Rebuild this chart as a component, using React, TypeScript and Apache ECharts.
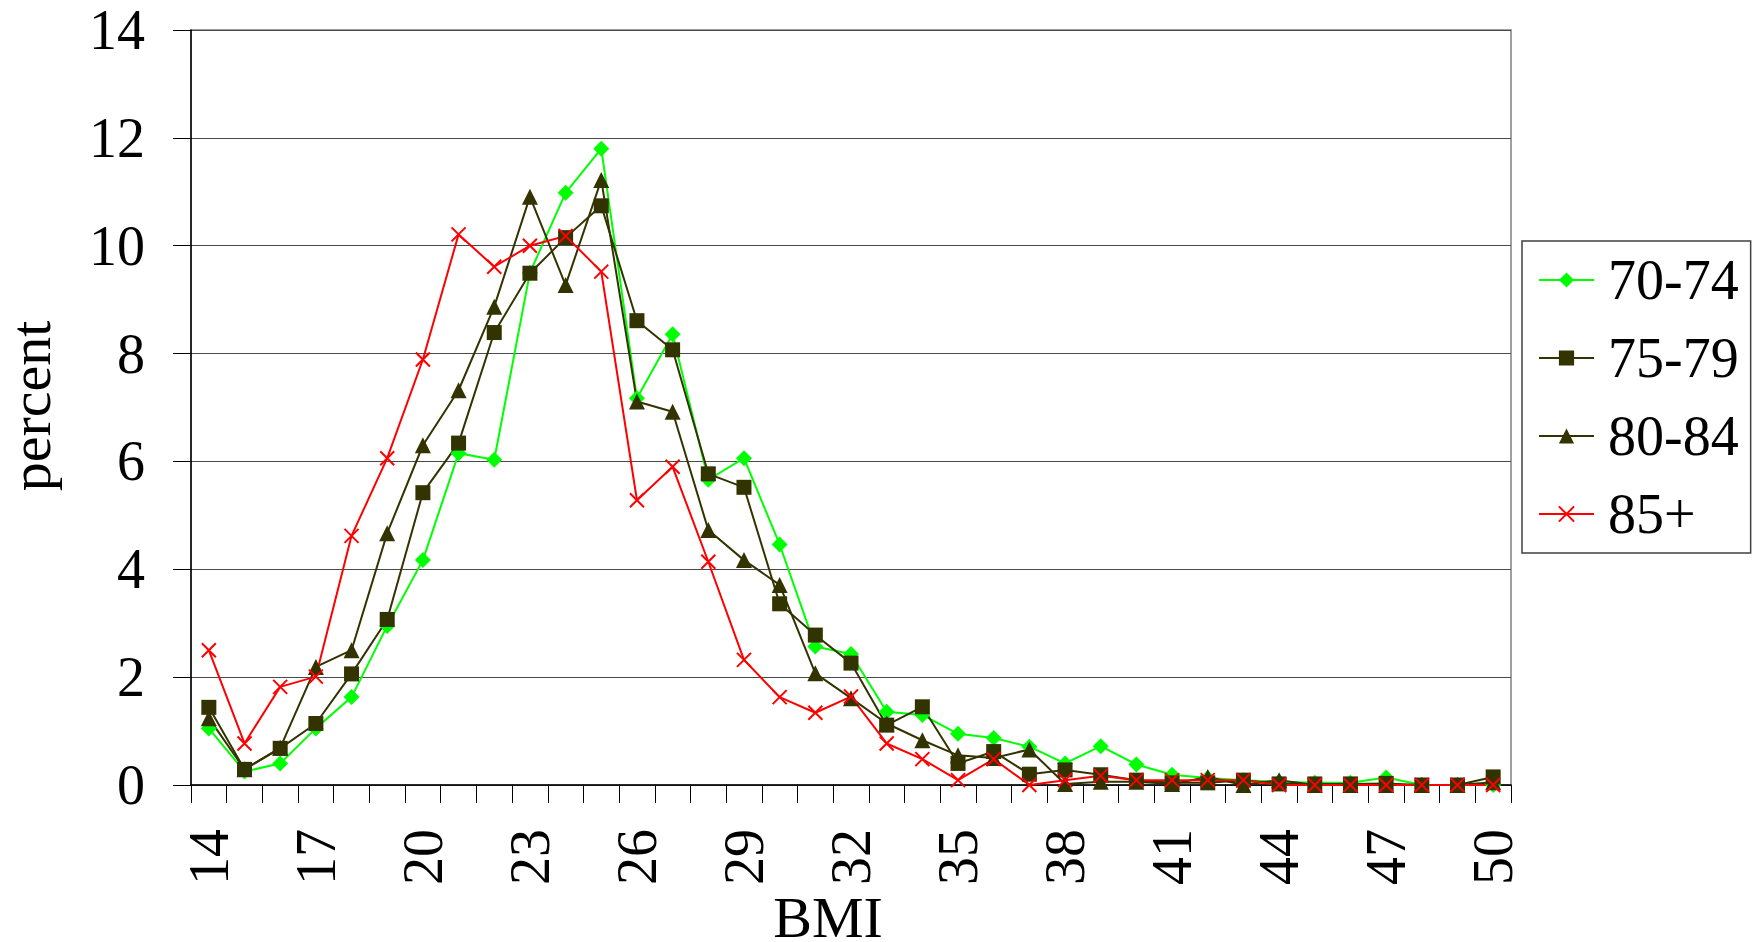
import React, { useEffect, useRef } from "react";
import * as echarts from "echarts";

const bmi = [
  "14","15","16","17","18","19","20","21","22","23","24","25","26","27","28","29","30","31","32",
  "33","34","35","36","37","38","39","40","41","42","43","44","45","46","47","48","49","50",
];

const age70_74 = [
  1.05, 0.25, 0.4, 1.05, 1.63, 2.95, 4.17, 6.15, 6.03, 9.5, 10.98, 11.8, 7.17, 8.36, 5.66, 6.06, 4.46, 2.57, 2.43,
  1.36, 1.3, 0.95, 0.87, 0.71, 0.4, 0.72, 0.38, 0.19, 0.13, 0.09, 0.06, 0.04, 0.04, 0.14, 0, 0, 0,
];
const age75_79 = [
  1.44, 0.29, 0.68, 1.14, 2.06, 3.07, 5.42, 6.34, 8.39, 9.49, 10.15, 10.74, 8.61, 8.07, 5.77, 5.52, 3.36, 2.78, 2.26,
  1.11, 1.45, 0.4, 0.62, 0.2, 0.28, 0.19, 0.09, 0.04, 0.04, 0.09, 0.02, 0.02, 0.02, 0.03, 0, 0, 0.15,
];
const age80_84 = [
  1.24, 0.29, 0.69, 2.19, 2.5, 4.67, 6.3, 7.32, 8.87, 10.91, 9.27, 11.22, 7.11, 6.92, 4.73, 4.17, 3.71, 2.07, 1.61,
  1.14, 0.83, 0.55, 0.5, 0.66, 0.02, 0.06, 0.06, 0.02, 0.15, 0, 0.09, 0, 0, 0, 0, 0, 0.05,
];
const age85plus = [
  2.5, 0.77, 1.82, 2.01, 4.62, 6.06, 7.89, 10.21, 9.61, 10.0, 10.18, 9.52, 5.28, 5.9, 4.14, 2.32, 1.63, 1.34, 1.64,
  0.77, 0.48, 0.09, 0.48, 0, 0.09, 0.17, 0.09, 0.09, 0.09, 0.09, 0, 0, 0, 0, 0, 0, 0,
];

const seriesNames = ["70-74", "75-79", "80-84", "85+"];
const yTicks = { min: 0, max: 14, interval: 2 };

const FONT = "'Liberation Serif', 'Times New Roman', serif";
const OLIVE = "#333300";

export default function App() {
  const ref = useRef<HTMLDivElement>(null);

  useEffect(() => {
    if (!ref.current) return;
    const chart = echarts.init(ref.current, undefined, { renderer: "svg" });
    const mk = (name: string, data: number[], color: string, symbol: string, size: number, extra: any = {}) => ({
      name,
      type: "line",
      data,
      symbol,
      symbolSize: size,
      showSymbol: true,
      lineStyle: { color, width: 2 },
      itemStyle: { color, borderWidth: 0, ...extra },
      emphasis: { disabled: true },
    });
    chart.setOption({
      animation: false,
      backgroundColor: "#ffffff",
      textStyle: { fontFamily: FONT },
      grid: {
        left: 191,
        right: 247,
        top: 30,
        bottom: 157,
        containLabel: false,
        show: true,
        borderColor: "#808080",
        borderWidth: 1.5,
        backgroundColor: "transparent",
      },
      legend: {
        orient: "vertical",
        left: 1522,
        top: 241,
        padding: [9, 12, 9, 16],
        itemWidth: 55,
        itemHeight: 19,
        itemGap: 18,
        selectedMode: false,
        borderColor: "#404040",
        borderWidth: 1.5,
        data: seriesNames,
        textStyle: {
          fontFamily: FONT,
          fontSize: 56,
          lineHeight: 60,
          color: "#000",
          padding: [0, 0, 0, 9],
        },
      },
      xAxis: {
        type: "category",
        data: bmi,
        boundaryGap: true,
        axisLine: { lineStyle: { color: "#000", width: 1.5 } },
        axisTick: { show: true, interval: 0, length: 18, lineStyle: { color: "#000", width: 1 } },
        axisLabel: {
          interval: 2,
          rotate: 90,
          margin: 44,
          fontFamily: FONT,
          fontSize: 56,
          color: "#000",
        },
        splitLine: { show: false },
      },
      yAxis: {
        type: "value",
        min: yTicks.min,
        max: yTicks.max,
        interval: yTicks.interval,
        axisLine: { show: true, lineStyle: { color: "#000", width: 1.5 } },
        axisTick: { show: true, length: 18, lineStyle: { color: "#000", width: 1 } },
        axisLabel: { margin: 46, fontFamily: FONT, fontSize: 56, color: "#000" },
        splitLine: { show: true, lineStyle: { color: "#4a4a4a", width: 1.2 } },
      },
      graphic: [
        {
          type: "text",
          x: 30,
          y: 406,
          rotation: Math.PI / 2,
          style: {
            text: "percent",
            font: `58px ${FONT}`,
            lineHeight: 46,
            fill: "#000",
            textAlign: "center",
            textVerticalAlign: "middle",
          },
        },
        {
          type: "text",
          x: 828,
          y: 917,
          style: {
            text: "BMI",
            font: `58px ${FONT}`,
            lineHeight: 44,
            fill: "#000",
            textAlign: "center",
            textVerticalAlign: "middle",
          },
        },
      ],
      series: [
        mk(seriesNames[0], age70_74, "#00ff00", "diamond", 16),
        mk(seriesNames[1], age75_79, OLIVE, "rect", 15),
        mk(seriesNames[2], age80_84, OLIVE, "triangle", 16),
        mk(seriesNames[3], age85plus, "#ff0000", "path://M0 0L10 10M0 10L10 0", 14, {
          borderColor: "#ff0000",
          borderWidth: 2,
        }),
      ],
    });
    return () => chart.dispose();
  }, []);

  return (
    <div
      ref={ref}
      style={{ position: "fixed", left: 0, top: 0, width: 1758, height: 942, background: "#fff" }}
    />
  );
}
